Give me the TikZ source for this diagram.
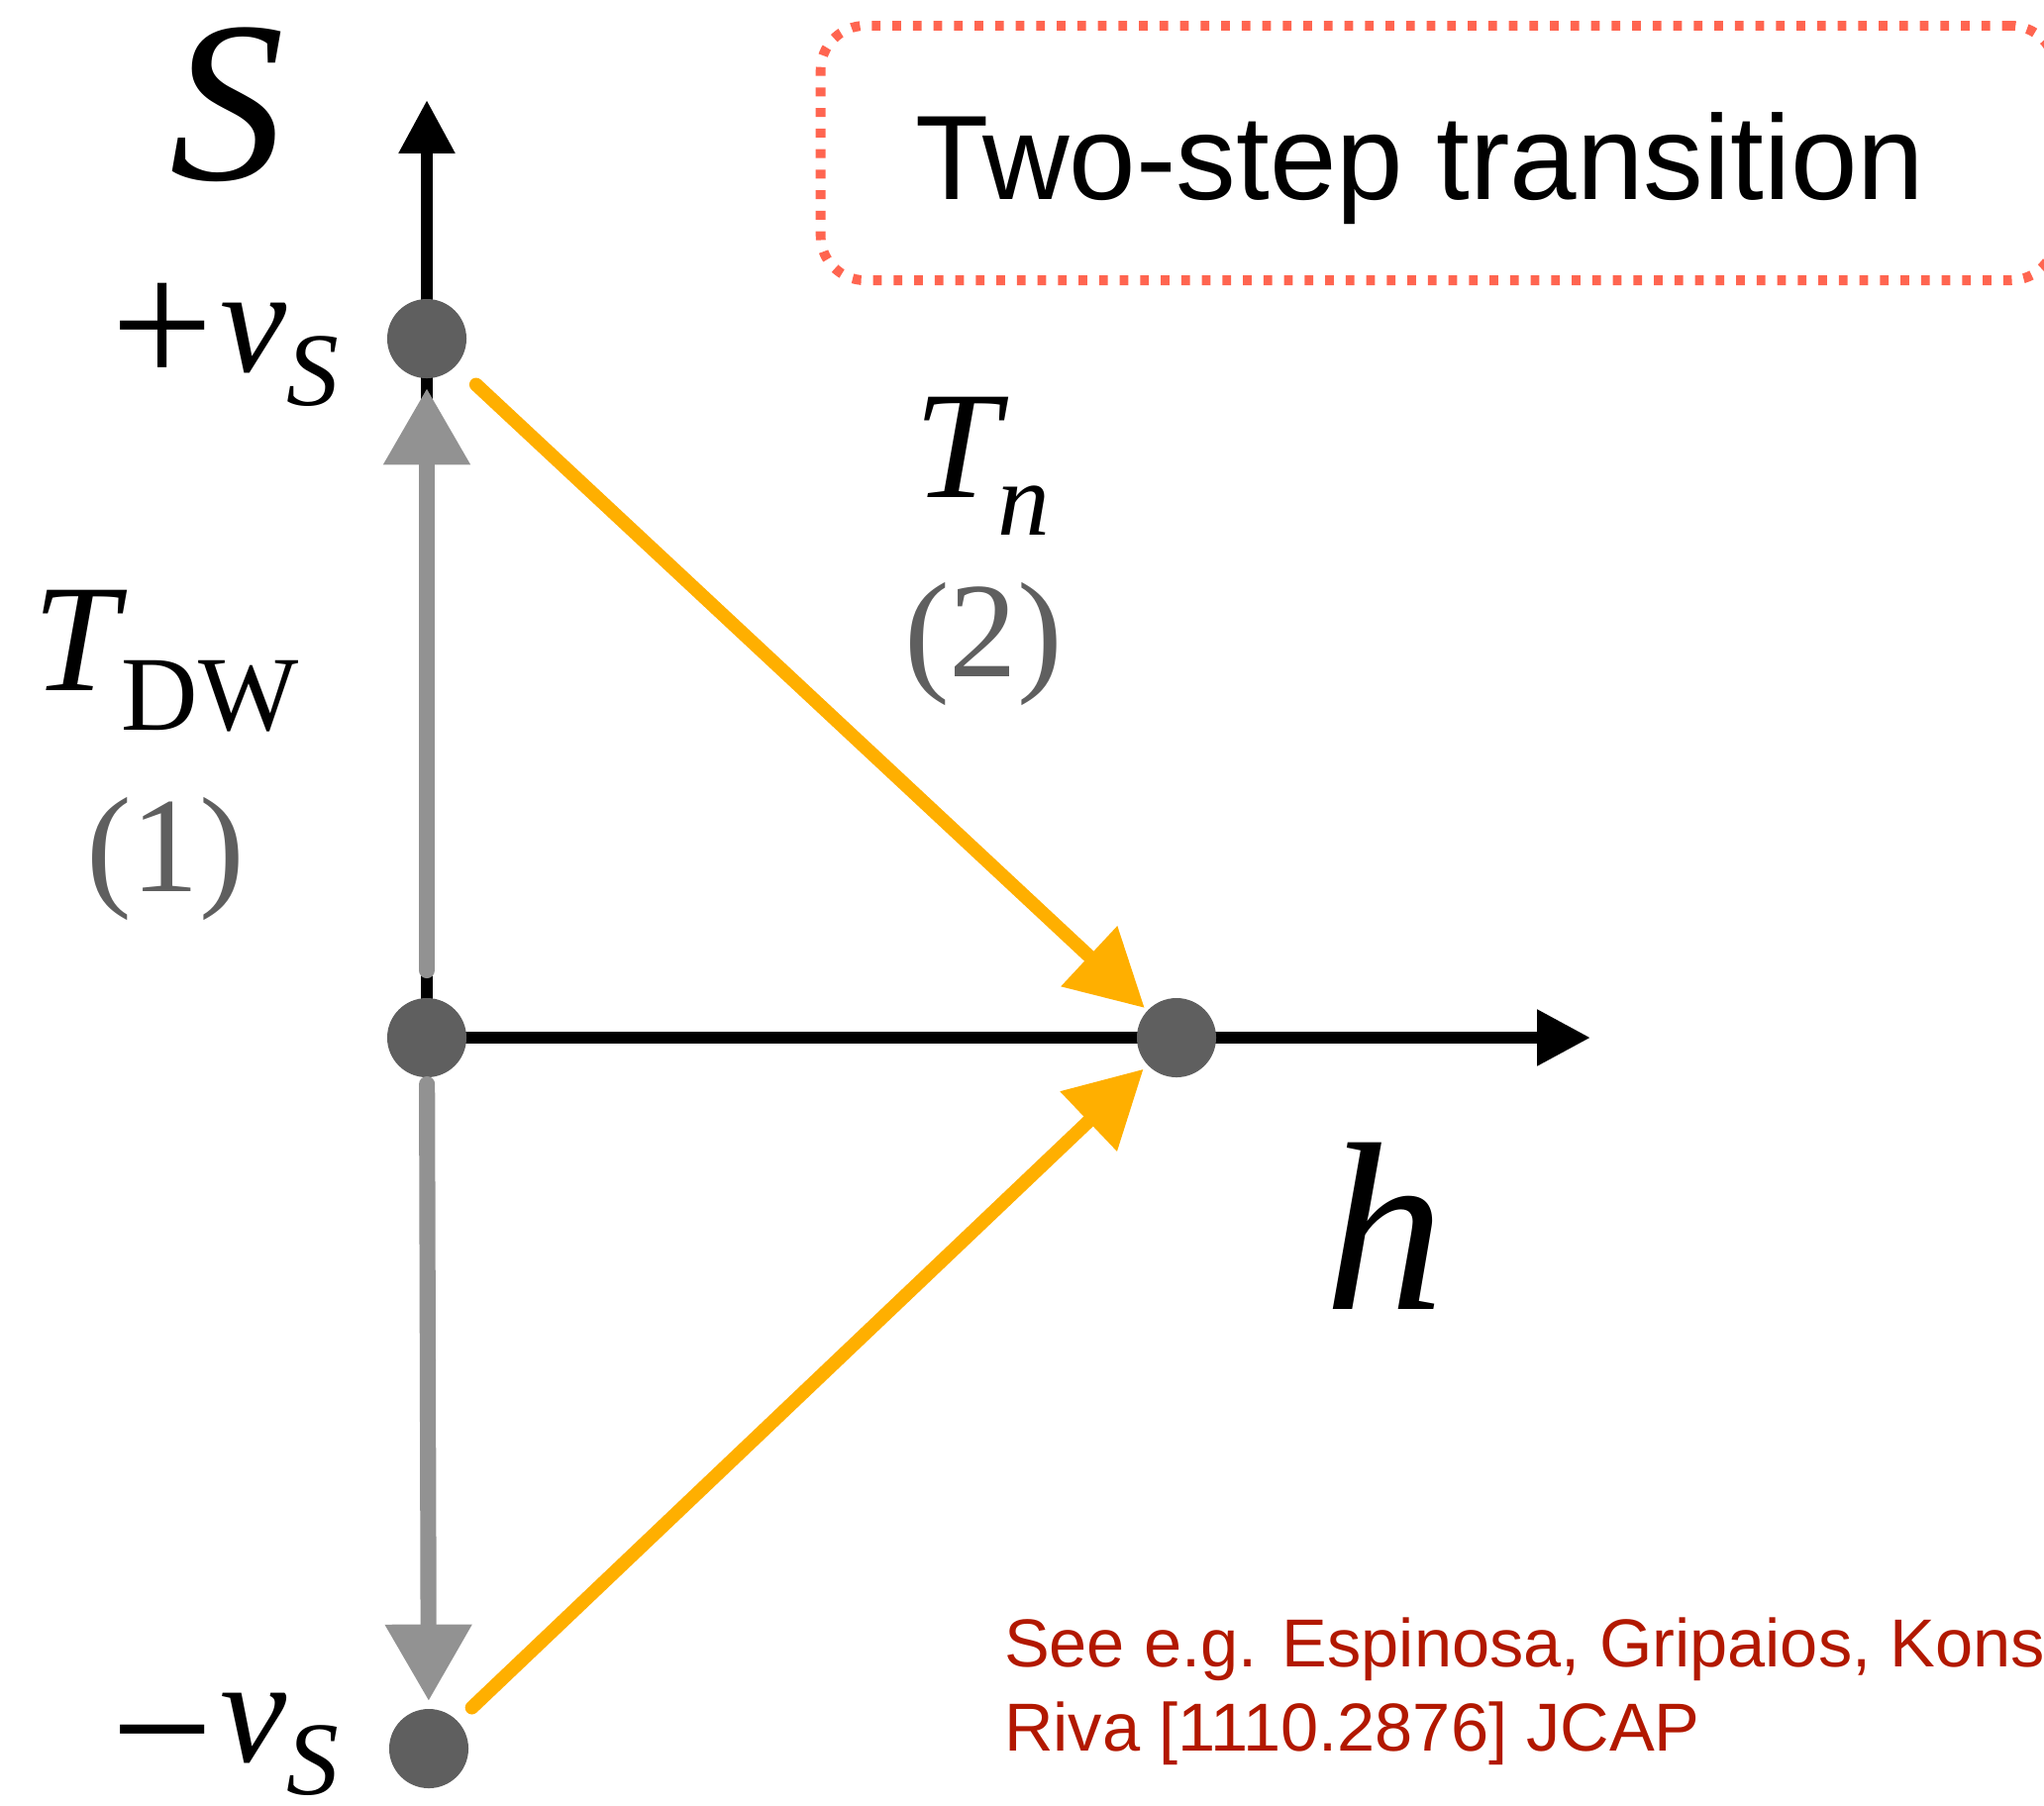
\documentclass[tikz,border=0pt]{standalone}
\usepackage{fontspec}
\setmainfont{Liberation Serif}
\newfontfamily\sansfont{Liberation Sans}
\usetikzlibrary{arrows.meta}
\definecolor{dotgray}{RGB}{95,95,95}
\definecolor{arrgray}{RGB}{146,146,146}
\definecolor{amber}{RGB}{255,175,0}
\definecolor{salmon}{RGB}{255,101,80}
\definecolor{citered}{RGB}{178,24,0}
\begin{document}
\begin{tikzpicture}[x=0.01cm,y=-0.01cm,
  dot/.style={circle,fill=dotgray,inner sep=0pt,minimum size=0.8cm},
  axisline/.style={line width=3.4pt,-{Triangle[length=15.3pt,width=15.3pt]}},
  grayarrow/.style={color=arrgray,line width=4.6pt,line cap=round,-{Triangle[length=22pt,width=23.8pt]}},
  amberarrow/.style={color=amber,line width=3.9pt,line cap=round,-{Triangle[length=21.8pt,width=22.7pt]}},
  lab/.style={inner sep=0pt,outer sep=0pt},
  numlab/.style={lab,text=dotgray,font=\fontsize{39}{39}\selectfont},
  citelab/.style={lab,text=citered,font=\sansfont\fontsize{19.5}{24}\selectfont},
  boxstyle/.style={draw=salmon,line width=2.8pt,dash pattern=on 2.5pt off 3.4pt,rounded corners=0.45cm}
]
\useasboundingbox (0,0) rectangle (2064,1823);

% axes
\coordinate (ytip) at (431,101);
\coordinate (xtip) at (1606,1048);
\coordinate (o) at (431,1048);
\draw[axisline] (o) -- (ytip);
\draw[axisline] (o) -- (xtip);

% dots
\node[dot] (top) at (431,342) {};
\node[dot] (orig) at (431,1048) {};
\node[dot] (hn) at (1188,1048) {};
\node[dot] (bot) at (433,1766) {};

% gray arrows
\draw[grayarrow,shorten <=0.68cm,shorten >=0.50cm] (orig.center) -- (top.center);
\draw[grayarrow,shorten <=0.47cm,shorten >=0.48cm] (orig.center) -- (bot.center);

% amber arrows
\draw[amberarrow,shorten <=0.68cm,shorten >=0.44cm] (top.center) -- (hn.center);
\draw[amberarrow,shorten <=0.60cm,shorten >=0.46cm] (bot.center) -- (hn.center);

% title box
\node[boxstyle,minimum width=12.46cm,minimum height=2.57cm,inner sep=0pt] (tbox) at (1452,154.5) {};
\node[lab,anchor=base,font=\sansfont\fontsize{34.5}{34.5}\selectfont] (title) at (1434,201) {Two-step transition};

% labels
\node[lab,anchor=base] (Slab) at (230,181) {\fontsize{66}{66}\selectfont\itshape S};
\node[lab,anchor=base west] (vp) at (112,375) {\raisebox{-4pt}[\height][0pt]{\fontsize{52}{52}\selectfont +}\kern2pt{\fontsize{43}{43}\selectfont\textit{v}}\raisebox{-9.9pt}{\fontsize{30}{30}\selectfont\textit{S}}};
\node[lab,anchor=base west] (vm) at (112,1779) {\raisebox{-8pt}[\height][0pt]{\fontsize{52}{52}\selectfont −}\kern2pt{\fontsize{43}{43}\selectfont\textit{v}}\raisebox{-9.5pt}{\fontsize{30}{30}\selectfont\textit{S}}};
\node[lab,anchor=base west] (tdw) at (33,697) {\fontsize{44}{44}\selectfont\textit{T}\kern-1.5pt\raisebox{-11.6pt}{\fontsize{30.5}{30.5}\selectfont DW}};
\node[numlab,anchor=base] (one) at (167,900) {(1)};
\node[lab,anchor=base west] (tn) at (923,502) {\fontsize{44}{44}\selectfont\textit{T}\kern-3pt\raisebox{-10.8pt}{\fontsize{30}{30}\selectfont\textit{n}}};
\node[numlab,anchor=base] (two) at (993,683) {(2)};
\node[lab,anchor=base] (hlab) at (1398,1322) {\fontsize{69}{69}\selectfont\itshape h};

% citation
\node[citelab,anchor=base west] (cite1) at (1014,1683) {See e.g. Espinosa, Gripaios, Kons};
\node[citelab,anchor=base west] (cite2) at (1014,1768) {Riva [1110.2876] JCAP};
\end{tikzpicture}
\end{document}
